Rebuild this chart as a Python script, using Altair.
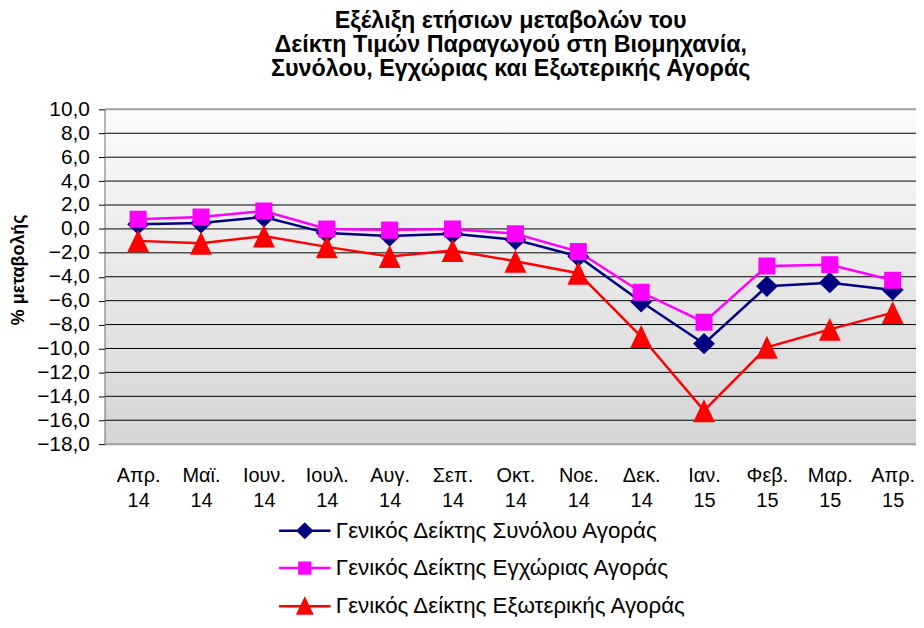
import altair as alt
import pandas as pd

# ---- data ----
months = ["Απρ. 14", "Μαϊ. 14", "Ιουν. 14", "Ιουλ. 14", "Αυγ. 14", "Σεπ. 14",
          "Οκτ. 14", "Νοε. 14", "Δεκ. 14", "Ιαν. 15", "Φεβ. 15", "Μαρ. 15", "Απρ. 15"]
series_names = ["Γενικός Δείκτης Συνόλου Αγοράς",
                "Γενικός Δείκτης Εγχώριας Αγοράς",
                "Γενικός Δείκτης Εξωτερικής Αγοράς"]
total = [0.4, 0.5, 1.0, -0.35, -0.6, -0.4, -0.9, -2.3, -6.1, -9.6, -4.8, -4.5, -5.1]
domestic = [0.8, 1.0, 1.5, 0.0, -0.1, 0.0, -0.4, -1.9, -5.3, -7.8, -3.1, -3.0, -4.3]
external = [-1.0, -1.2, -0.6, -1.5, -2.3, -1.8, -2.7, -3.7, -9.0, -15.2, -9.9, -8.4, -7.0]
y_ticks = list(range(-18, 11, 2))
title_lines = ["Εξέλιξη ετήσιων μεταβολών του",
               "Δείκτη Τιμών Παραγωγού στη Βιομηχανία,",
               "Συνόλου, Εγχώριας και Εξωτερικής Αγοράς"]
y_title = "% μεταβολής"

series_colors = ["#000080", "#FF00FF", "#FF0000"]
FONT = "Liberation Sans"

rows = []
for name, vals in zip(series_names, [total, domestic, external]):
    for i, (m, v) in enumerate(zip(months, vals)):
        rows.append({"month": m, "idx": i, "series": name, "value": v})
df = pd.DataFrame(rows)
grid_df = pd.DataFrame({"value": y_ticks})
bg_df = pd.DataFrame({"k": [0]})

# marker paths: a horizontal stroke (only visible in the legend) + filled marker
LINE = "M-3.7,0H3.7"
diamond = LINE + "M0,-0.97L1,0L0,0.97L-1,0Z"
square = LINE + "M-0.78,-0.78H0.78V0.78H-0.78Z"
triangle = LINE + "M0,-1.05L1,1.05L-1,1.05Z"

W, H = 816, 337

x_enc = alt.X("month:O", sort=months,
              scale=alt.Scale(type="point", domain=months, range=[33, 792.5], padding=0),
              axis=alt.Axis(title=None, labelExpr="split(datum.label, ' ')", labelAngle=0,
                            ticks=False, tickSize=0, domain=False, grid=False,
                            labelFont=FONT, labelFontSize=20, labelLineHeight=24.5,
                            labelColor="black", labelPadding=22, labelBaseline="top"))
y_scale = alt.Scale(domain=[-18, 10], nice=False, zero=False)
y_axis = alt.Axis(values=y_ticks, grid=False,
                  labelExpr="replace(format(datum.value, '.1f'), '.', ',')",
                  labelFont=FONT, labelFontSize=21, labelColor="black",
                  labelOverlap=False, labelFlush=False, labelPadding=9,
                  tickColor="black", tickSize=7, tickWidth=1,
                  domainColor="#404040", domainWidth=2.5,
                  title=y_title, titleFont=FONT, titleFontSize=18,
                  titleFontWeight="bold", titleColor="black",
                  titleAngle=270, titleAlign="center", titleBaseline="middle",
                  titleX=-87, titleY=161)
y_enc = alt.Y("value:Q", scale=y_scale, axis=y_axis)

color_scale = alt.Scale(domain=series_names, range=series_colors)
shape_scale = alt.Scale(domain=series_names, range=[diamond, square, triangle])

leg = alt.Legend(title=None, orient="none", legendX=189.5, legendY=413,
                 direction="vertical", labelFont=FONT, labelFontSize=22.5,
                 labelColor="black", symbolSize=196, symbolStrokeWidth=2.5,
                 labelOffset=20, rowPadding=13.5, padding=0, labelLimit=700,
                 symbolOpacity=1)

bg = alt.Chart(bg_df).mark_rect(
    color={"gradient": "linear", "x1": 0, "y1": 0, "x2": 0, "y2": 1,
           "stops": [{"offset": 0, "color": "#fbfbfb"},
                     {"offset": 1, "color": "#d5d5d5"}]}
).encode(x=alt.value(0), x2=alt.value(W), y=alt.value(0), y2=alt.value(H))

grid = alt.Chart(grid_df).mark_rule().encode(
    y=y_enc,
    color=alt.condition("datum.value == 10 || datum.value == -18", alt.value("#a0a0a0"), alt.value("black")),
    strokeWidth=alt.condition("datum.value == 10 || datum.value == -18", alt.value(2), alt.value(1)),
)

lines = alt.Chart(df).mark_line(strokeWidth=2.5).encode(
    x=x_enc, y=y_enc,
    color=alt.Color("series:N", scale=color_scale, legend=leg),
    order=alt.Order("idx:Q"),
)

points = alt.Chart(df).mark_point(filled=True, size=484, strokeWidth=0, opacity=1).encode(
    x=x_enc, y=y_enc,
    color=alt.Color("series:N", scale=color_scale, legend=leg),
    stroke=alt.Stroke("series:N", scale=color_scale, legend=leg),
    shape=alt.Shape("series:N", scale=shape_scale, legend=leg),
)

chart = alt.layer(bg, grid, lines, points).properties(
    width=W, height=H,
    title=alt.TitleParams(text=title_lines, font=FONT, fontSize=23.5, fontWeight="bold",
                          color="black", lineHeight=24, anchor="middle", offset=18),
    autosize=alt.AutoSizeParams(type="none"),
    padding={"left": 98, "top": 100, "right": 0, "bottom": 174},
).configure_view(stroke=None)

chart.save("out.html", embed_options={"renderer": "svg", "actions": False})
